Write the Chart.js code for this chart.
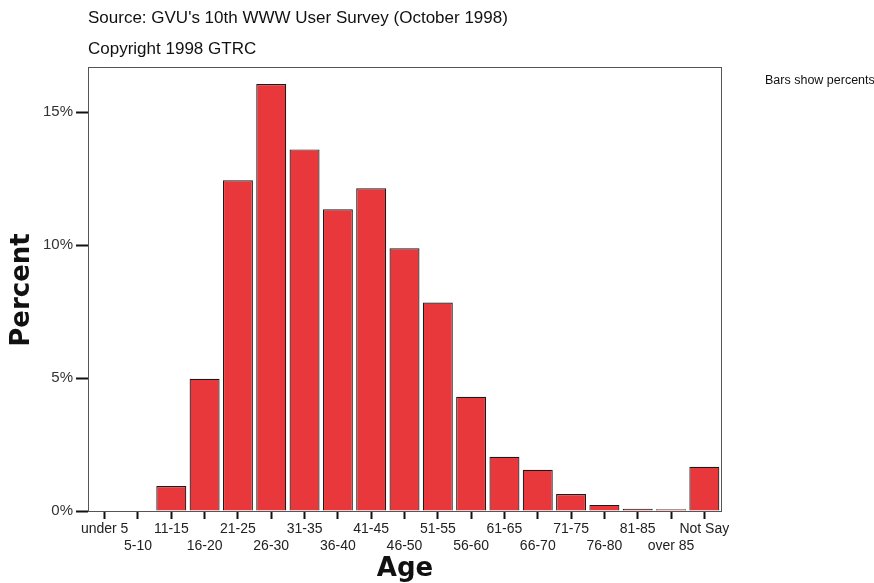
<!DOCTYPE html>
<html>
<head>
<meta charset="utf-8">
<script src="https://cdn.jsdelivr.net/npm/chart.js@4"></script>
<style>
body { margin: 0; background: #fff; }
canvas { display: block; }
</style>
</head>
<body>
<canvas id="grafico" width="874" height="583"></canvas>
<script>
const categorias = ['under 5', '5-10', '11-15', '16-20', '21-25', '26-30', '31-35', '36-40', '41-45',
    '46-50', '51-55', '56-60', '61-65', '66-70', '71-75', '76-80', '81-85', 'over 85', 'Not Say'];
const percentuais = [0, 0, 0.94, 4.97, 12.44, 16.06, 13.6, 11.35, 12.14,
    9.88, 7.84, 4.3, 2.04, 1.55, 0.64, 0.23, 0.08, 0.07, 1.66];
const ticksY = [0, 5, 10, 15];

const fonte = '"Liberation Sans", Arial, sans-serif';

const textos = {
    id: 'textos',
    afterDraw(chart) {
        const c = chart.ctx;
        const a = chart.chartArea;
        c.save();
        // moldura
        c.strokeStyle = '#555';
        c.lineWidth = 1;
        c.strokeRect(a.left + 0.5, a.top + 0.5, a.right - a.left, a.bottom - a.top);

        c.fillStyle = '#111';
        c.textAlign = 'left';
        c.textBaseline = 'middle';
        c.font = '17px ' + fonte;
        c.fillText("Source: GVU's 10th WWW User Survey (October 1998)", 88, 18);
        c.fillText('Copyright 1998 GTRC', 88, 49);
        c.font = '12.5px ' + fonte;
        c.fillText('Bars show percents', 765, 81);

        c.font = 'bold 26px "DejaVu Sans", sans-serif';
        c.textAlign = 'center';
        c.fillText('Age', 405, 569);
        c.translate(22, 290);
        c.rotate(-Math.PI / 2);
        c.fillText('Percent', 0, 0);
        c.restore();
    }
};

new Chart(document.getElementById('grafico'), {
    type: 'bar',
    data: {
        labels: categorias,
        datasets: [
            {
            data: percentuais,
            backgroundColor: '#e8383c',
            borderColor: '#1a1a1a',
            borderWidth: 1.2,
            barPercentage: 0.9,
            categoryPercentage: 1
            }
        ]
    },
    options: {
        responsive: false,
        animation: false,
        layout: {
            padding: { left: 0, top: 67, right: 153, bottom: 0 }
        },
        plugins: {
            legend: { display: false },
            tooltip: { enabled: false }
        },
        scales: {
            x: {
                offset: true,
                grid: {
                    offset: false,
                    drawOnChartArea: false,
                    tickLength: 8,
                    tickWidth: 2,
                    tickColor: '#111'
                },
                border: { display: false },
                ticks: {
                    autoSkip: false,
                    maxRotation: 0,
                    padding: 1,
                    color: '#222',
                    font: { family: fonte, size: 14, lineHeight: 1.25 },
                    callback: function (v, i) {
                        return i % 2 === 0 ? [categorias[i], ''] : ['', categorias[i]];
                    }
                },
                afterFit: function (s) { s.height = 72; }
            },
            y: {
                min: 0,
                max: 16.7,
                grid: {
                    drawOnChartArea: false,
                    tickLength: 12,
                    tickWidth: 2,
                    tickColor: '#111'
                },
                border: { display: false },
                afterBuildTicks: function (s) {
                    s.ticks = ticksY.map(function (v) { return { value: v }; });
                },
                ticks: {
                    padding: 3,
                    color: '#333',
                    font: { family: fonte, size: 15 },
                    callback: function (v) { return v + '%'; }
                },
                afterFit: function (s) { s.width = 88; }
            }
        }
    },
    plugins: [textos]
});
</script>
</body>
</html>
